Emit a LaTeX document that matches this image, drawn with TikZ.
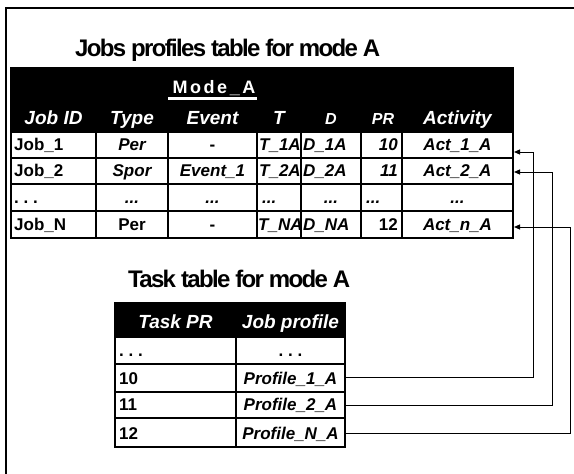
\documentclass[tikz,border=0pt]{standalone}
\usepackage{fontspec}
\setmainfont{Liberation Sans}
\usetikzlibrary{arrows.meta}
\begin{document}
\begin{tikzpicture}[x=1pt,y=-1pt,
  frameline/.style={line width=2pt},
  gridline/.style={line width=2pt},
  ttl/.style={font=\bfseries\fontsize{24}{24}\selectfont\addfontfeatures{LetterSpace=-7}, anchor=base west, inner sep=0pt},
  hd/.style={text=white, font=\bfseries\itshape\fontsize{19}{19}\selectfont, anchor=base, inner sep=0pt},
  hds/.style={hd, font=\bfseries\itshape\fontsize{16}{16}\selectfont},
  modetxt/.style={text=white, font=\bfseries\fontsize{18}{18}\selectfont\addfontfeatures{LetterSpace=14}, anchor=base, inner sep=0pt},
  cb/.style={font=\bfseries\fontsize{17}{17}\selectfont, inner sep=0pt},
  ci/.style={font=\bfseries\itshape\fontsize{17}{17}\selectfont, inner sep=0pt},
  conn/.style={line width=1pt, -{Triangle[length=6pt,width=5pt]}}]
\useasboundingbox (0,0) rectangle (574,474);

% open frame at the left and top
\draw[frameline] (6,474) -- (6,8) -- (574,8);

% ---------- jobs profiles table ----------
\node[ttl] (title1) at (75,56) {Jobs profiles table for mode A};
\fill[black] (10,67) rectangle (514,133);
\node[modetxt] (mode) at (214,93) {Mode\_A};
\draw[white, line width=2.5pt] (168,98.5) -- (257,98.5);

\node[hd]  (hjob)  at (53.5,124) {Job ID};
\node[hd]  (htype) at (132,124)  {Type};
\node[hd]  (hevt)  at (212.5,124) {Event};
\node[hd]  (ht)    at (279,124) {T};
\node[hds] (hd)    at (331,124) {D};
\node[hds] (hpr)   at (383,124) {PR};
\node[hd]  (hact)  at (457.5,124) {Activity};

% grid of the body rows
\foreach \y in {158,184,211,238} \draw[gridline] (10,\y) -- (514,\y);
\foreach \x in {11,96,168,257,301,361,402,513} \draw[gridline] (\x,133) -- (\x,239);

% row 1
\node[cb, anchor=base west] (j1) at (14,150) {Job\_1};
\node[ci, anchor=base] (y1) at (132,150) {Per};
\node[cb, anchor=base] (e1) at (212.5,150) {-};
\node[ci, anchor=base west] (t1) at (259,150) {T\_1A};
\node[ci, anchor=base west] (d1) at (303,150) {D\_1A};
\node[ci, anchor=base east] (r1) at (398,150) {10};
\node[ci, anchor=base] (a1) at (457.5,150) {Act\_1\_A};
% row 2
\node[cb, anchor=base west] (j2) at (14,176) {Job\_2};
\node[ci, anchor=base] (y2) at (132,176) {Spor};
\node[ci, anchor=base] (e2) at (212.5,176) {Event\_1};
\node[ci, anchor=base west] (t2) at (259,176) {T\_2A};
\node[ci, anchor=base west] (d2) at (303,176) {D\_2A};
\node[ci, anchor=base east] (r2) at (398,176) {11};
\node[ci, anchor=base] (a2) at (457.5,176) {Act\_2\_A};
% row 3
\node[cb, anchor=base west] (j3) at (14,203) {.\ .\ .};
\node[ci, anchor=base] (y3) at (132,203) {...};
\node[ci, anchor=base] (e3) at (212.5,203) {...};
\node[ci, anchor=base west] (t3) at (262,203) {...};
\node[ci, anchor=base] (d3) at (331,203) {...};
\node[ci, anchor=base west] (r3) at (366,203) {...};
\node[ci, anchor=base] (a3) at (457.5,203) {...};
% row 4
\node[cb, anchor=base west] (j4) at (14,230) {Job\_N};
\node[cb, anchor=base] (y4) at (132,230) {Per};
\node[cb, anchor=base] (e4) at (212.5,230) {-};
\node[ci, anchor=base west] (t4) at (258,230) {T\_NA};
\node[ci, anchor=base west] (d4) at (303,230) {D\_NA};
\node[cb, anchor=base east] (r4) at (398,230) {12};
\node[ci, anchor=base] (a4) at (457.5,230) {Act\_n\_A};

% ---------- task table ----------
\node[ttl] (title2) at (128,287) {Task table for mode A};
\fill[black] (114,302) rectangle (346,337);
\node[hd] (htask) at (175.5,328) {Task PR};
\node[hd] (hprof) at (290.5,328) {Job profile};
\foreach \y in {337,364,392,418,447} \draw[gridline] (114,\y) -- (346,\y);
\foreach \x in {115,236,345} \draw[gridline] (\x,337) -- (\x,448);

\node[cb, anchor=base west] (k0) at (119,356) {.\ .\ .};
\node[cb, anchor=base] (q0) at (290.5,356) {.\ .\ .};
\node[cb, anchor=base west] (k1) at (119,384) {10};
\node[ci, anchor=base] (q1) at (290.5,384) {Profile\_1\_A};
\node[cb, anchor=base west] (k2) at (119,410) {11};
\node[ci, anchor=base] (q2) at (290.5,410) {Profile\_2\_A};
\node[cb, anchor=base west] (k3) at (119,439) {12};
\node[ci, anchor=base] (q3) at (290.5,439) {Profile\_N\_A};

% ---------- links from task rows back to the activities ----------
\coordinate (out1) at (346,377);
\coordinate (out2) at (346,405);
\coordinate (out3) at (346,433);
\coordinate (bend1) at (533,152);
\coordinate (bend2) at (552,172);
\coordinate (bend3) at (570,227);
\coordinate (in1) at (514,152);
\coordinate (in2) at (514,172);
\coordinate (in3) at (514,227);
\draw[conn] (out1) -| (bend1) -- (in1);
\draw[conn] (out2) -| (bend2) -- (in2);
\draw[conn] (out3) -| (bend3) -- (in3);
\end{tikzpicture}
\end{document}
